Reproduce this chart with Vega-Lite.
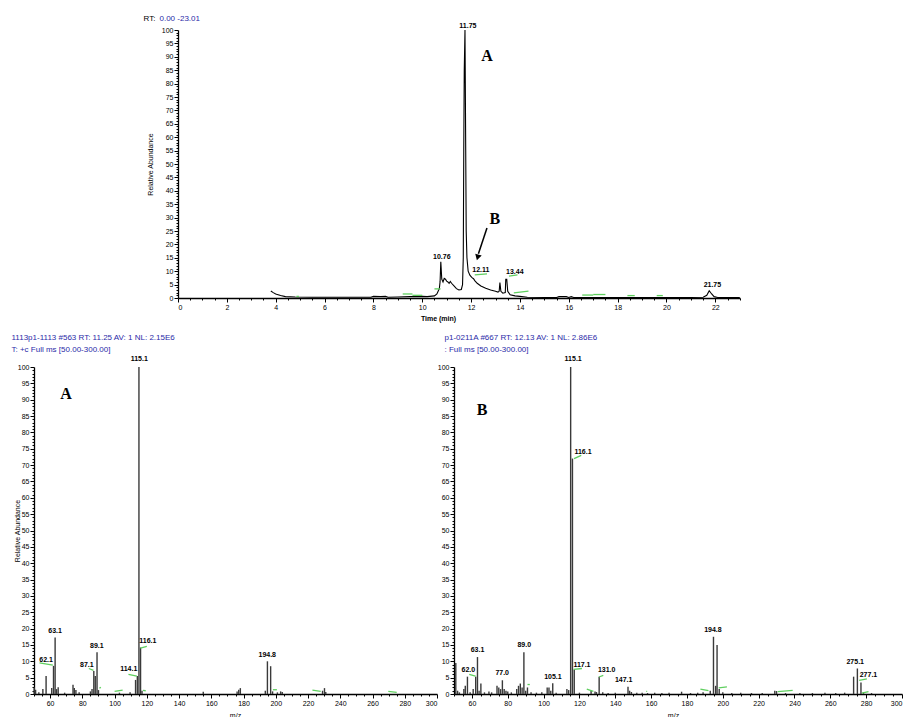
{
  "$schema": "https://vega.github.io/schema/vega-lite/v6.json",
  "background": "white",
  "padding": {"left": 11, "top": 14, "right": 0, "bottom": 0},
  "config": {
    "view": {"stroke": null},
    "font": "Liberation Sans",
    "axis": {"grid": false, "domainColor": "black", "tickColor": "black", "labelColor": "black", "labelFont": "Liberation Sans", "labelFontSize": 7, "labelPadding": 1, "labelOverlap": false, "titleFont": "Liberation Sans", "titleFontSize": 7, "titleFontWeight": "normal", "titleColor": "black", "domainWidth": 1.3, "tickWidth": 1}
  },
  "datasets": {
    "chrom": [
      {"t": 3.8, "a": 2.6}, {"t": 3.9, "a": 2.0}, {"t": 4.0, "a": 1.5}, {"t": 4.2, "a": 0.9}, {"t": 4.4, "a": 0.5}, {"t": 4.8, "a": 0.35}, {"t": 5.5, "a": 0.3}, {"t": 6.5, "a": 0.3}, {"t": 7.5, "a": 0.3}, {"t": 7.9, "a": 0.3}, {"t": 8.0, "a": 0.6}, {"t": 8.3, "a": 0.5}, {"t": 8.5, "a": 0.6}, {"t": 8.6, "a": 0.3}, {"t": 9.0, "a": 0.4}, {"t": 9.5, "a": 0.5}, {"t": 10.0, "a": 0.6}, {"t": 10.2, "a": 0.5}, {"t": 10.5, "a": 0.8}, {"t": 10.6, "a": 1.5}, {"t": 10.65, "a": 2.5}, {"t": 10.7, "a": 3.5}, {"t": 10.73, "a": 6}, {"t": 10.76, "a": 13.5}, {"t": 10.8, "a": 7}, {"t": 10.85, "a": 6}, {"t": 10.9, "a": 7.3}, {"t": 10.95, "a": 7}, {"t": 11.0, "a": 6.3}, {"t": 11.05, "a": 6.0}, {"t": 11.1, "a": 5.5}, {"t": 11.15, "a": 6.2}, {"t": 11.2, "a": 5.5}, {"t": 11.3, "a": 4.5}, {"t": 11.4, "a": 3.5}, {"t": 11.5, "a": 3.0}, {"t": 11.6, "a": 3.2}, {"t": 11.65, "a": 5}, {"t": 11.68, "a": 15}, {"t": 11.7, "a": 55}, {"t": 11.72, "a": 85}, {"t": 11.75, "a": 100}, {"t": 11.78, "a": 55}, {"t": 11.8, "a": 25}, {"t": 11.83, "a": 15}, {"t": 11.88, "a": 10}, {"t": 11.95, "a": 8.5}, {"t": 12.0, "a": 8}, {"t": 12.05, "a": 7.5}, {"t": 12.1, "a": 7.2}, {"t": 12.15, "a": 6.5}, {"t": 12.25, "a": 5.5}, {"t": 12.4, "a": 4.5}, {"t": 12.6, "a": 3.6}, {"t": 12.8, "a": 3.0}, {"t": 13.0, "a": 2.5}, {"t": 13.1, "a": 2.2}, {"t": 13.15, "a": 2.5}, {"t": 13.18, "a": 5.8}, {"t": 13.22, "a": 2.5}, {"t": 13.3, "a": 1.8}, {"t": 13.4, "a": 2.0}, {"t": 13.42, "a": 7.0}, {"t": 13.46, "a": 7.0}, {"t": 13.5, "a": 2.5}, {"t": 13.6, "a": 1.2}, {"t": 13.8, "a": 0.8}, {"t": 14.0, "a": 0.6}, {"t": 14.3, "a": 0.3}, {"t": 15.0, "a": 0.2}, {"t": 15.5, "a": 0.2}, {"t": 15.6, "a": 0.5}, {"t": 15.9, "a": 0.5}, {"t": 16.0, "a": 0.2}, {"t": 16.1, "a": 0.5}, {"t": 16.2, "a": 0.2}, {"t": 17, "a": 0.2}, {"t": 18, "a": 0.2}, {"t": 19, "a": 0.2}, {"t": 20, "a": 0.2}, {"t": 21, "a": 0.2}, {"t": 21.5, "a": 0.3}, {"t": 21.65, "a": 1.0}, {"t": 21.75, "a": 2.7}, {"t": 21.85, "a": 1.5}, {"t": 21.95, "a": 0.5}, {"t": 22.1, "a": 0.2}, {"t": 23.0, "a": 0.2}
    ],
    "chromGreen": [
      {"t1": 4.85, "a1": 0.6, "t2": 4.95, "a2": 0.6}, {"t1": 9.2, "a1": 1.5, "t2": 9.6, "a2": 1.5}, {"t1": 9.6, "a1": 1.0, "t2": 10.0, "a2": 1.0}, {"t1": 10.5, "a1": 3.4, "t2": 10.75, "a2": 3.4}, {"t1": 12.15, "a1": 8.6, "t2": 12.65, "a2": 9.0}, {"t1": 13.55, "a1": 8.2, "t2": 13.9, "a2": 8.6}, {"t1": 13.75, "a1": 1.9, "t2": 14.35, "a2": 2.6}, {"t1": 16.55, "a1": 1.1, "t2": 17.0, "a2": 1.1}, {"t1": 17.0, "a1": 1.3, "t2": 17.5, "a2": 1.3}, {"t1": 18.4, "a1": 0.9, "t2": 18.7, "a2": 0.9}, {"t1": 19.6, "a1": 0.9, "t2": 19.85, "a2": 0.9}
    ],
    "chromLabels": [
      {"t": 10.8, "a": 15.3, "label": "10.76"}, {"t": 11.87, "a": 101.5, "label": "11.75"}, {"t": 12.4, "a": 10.4, "label": "12.11"}, {"t": 13.79, "a": 9.8, "label": "13.44"}, {"t": 21.88, "a": 4.9, "label": "21.75"}
    ],
    "chromLetters": [
      {"t": 12.65, "a": 90.3, "label": "A"}, {"t": 12.97, "a": 29.5, "label": "B"}
    ],
    "arrow": [
      {"t1": 12.65, "a1": 26.1, "t2": 12.3, "a2": 16.5}
    ],
    "arrowHead": [
      {"t": 12.28, "a": 15.5}
    ],
    "specA": [
      {"m": 50.1, "v": 2.0}, {"m": 51, "v": 1.3}, {"m": 53, "v": 0.5}, {"m": 55.5, "v": 1.5}, {"m": 57.5, "v": 5.5}, {"m": 61, "v": 1.8}, {"m": 62.1, "v": 8.6}, {"m": 63.1, "v": 17.3}, {"m": 64, "v": 1.5}, {"m": 65, "v": 2.1}, {"m": 69, "v": 0.4}, {"m": 74.2, "v": 2.8}, {"m": 75, "v": 1.8}, {"m": 76, "v": 1.2}, {"m": 78, "v": 0.5}, {"m": 85, "v": 0.8}, {"m": 86, "v": 1.5}, {"m": 87.1, "v": 7.0}, {"m": 88, "v": 5.5}, {"m": 89.1, "v": 12.8}, {"m": 90, "v": 1.2}, {"m": 103, "v": 0.4}, {"m": 109.6, "v": 0.5}, {"m": 113, "v": 4.3}, {"m": 114.1, "v": 5.5}, {"m": 115.1, "v": 100}, {"m": 116.1, "v": 14.2}, {"m": 117, "v": 1.0}, {"m": 155, "v": 0.7}, {"m": 176, "v": 0.8}, {"m": 177, "v": 1.3}, {"m": 178, "v": 1.8}, {"m": 193.5, "v": 1.0}, {"m": 194.8, "v": 10.0}, {"m": 196.8, "v": 8.5}, {"m": 198, "v": 0.8}, {"m": 201, "v": 0.5}, {"m": 203, "v": 0.8}, {"m": 204, "v": 0.6}, {"m": 229, "v": 1.0}, {"m": 230.2, "v": 1.8}, {"m": 231, "v": 0.6}
    ],
    "greenA": [
      {"m1": 53.4, "v1": 9.5, "m2": 61.7, "v2": 8.8}, {"m1": 84.0, "v1": 7.8, "m2": 86.9, "v2": 7.2}, {"m1": 90.6, "v1": 1.8, "m2": 91.5, "v2": 2.0}, {"m1": 100, "v1": 0.8, "m2": 105, "v2": 1.2}, {"m1": 108.6, "v1": 6.0, "m2": 113.8, "v2": 5.5}, {"m1": 116, "v1": 14, "m2": 120, "v2": 14.6}, {"m1": 117.6, "v1": 1.1, "m2": 119.3, "v2": 1.0}, {"m1": 198.2, "v1": 1.3, "m2": 200.7, "v2": 1.3}, {"m1": 222.7, "v1": 1.2, "m2": 227.9, "v2": 0.8}, {"m1": 269.8, "v1": 0.8, "m2": 275, "v2": 0.5}
    ],
    "labelsA": [
      {"m": 57.5, "v": 10.5, "label": "62.1"}, {"m": 63.1, "v": 19.4, "label": "63.1"}, {"m": 82.8, "v": 9.0, "label": "87.1"}, {"m": 89.0, "v": 14.7, "label": "89.1"}, {"m": 108.8, "v": 7.7, "label": "114.1"}, {"m": 115.3, "v": 102.5, "label": "115.1"}, {"m": 120.6, "v": 16.1, "label": "116.1"}, {"m": 194.7, "v": 11.9, "label": "194.8"}
    ],
    "letterA": [
      {"m": 69.9, "v": 91.7, "label": "A"}
    ],
    "specB": [
      {"m": 51, "v": 9.5}, {"m": 52, "v": 1.0}, {"m": 53, "v": 0.5}, {"m": 55.5, "v": 1.5}, {"m": 56.3, "v": 2.5}, {"m": 57.5, "v": 5.3}, {"m": 59, "v": 0.5}, {"m": 60.7, "v": 1.5}, {"m": 62.1, "v": 5.3}, {"m": 63.1, "v": 11.3}, {"m": 64, "v": 1.0}, {"m": 65, "v": 3.2}, {"m": 67, "v": 0.5}, {"m": 69.5, "v": 0.8}, {"m": 71, "v": 0.5}, {"m": 74, "v": 2.5}, {"m": 75, "v": 2.0}, {"m": 76, "v": 1.5}, {"m": 77, "v": 4.2}, {"m": 78, "v": 1.5}, {"m": 79, "v": 1.0}, {"m": 80, "v": 0.8}, {"m": 82, "v": 0.5}, {"m": 85, "v": 1.5}, {"m": 86, "v": 2.5}, {"m": 87, "v": 3.2}, {"m": 88, "v": 2.0}, {"m": 89, "v": 12.8}, {"m": 90, "v": 1.0}, {"m": 91, "v": 2.0}, {"m": 93, "v": 0.5}, {"m": 96, "v": 0.4}, {"m": 99, "v": 0.5}, {"m": 102, "v": 2.0}, {"m": 103, "v": 2.0}, {"m": 104, "v": 1.0}, {"m": 105.1, "v": 3.3}, {"m": 107, "v": 0.4}, {"m": 113, "v": 1.5}, {"m": 114, "v": 1.2}, {"m": 115.1, "v": 100}, {"m": 116.1, "v": 72}, {"m": 117.1, "v": 7.5}, {"m": 120, "v": 0.4}, {"m": 126.5, "v": 1.0}, {"m": 128.7, "v": 0.8}, {"m": 129.5, "v": 0.6}, {"m": 131, "v": 5.3}, {"m": 133, "v": 0.5}, {"m": 136, "v": 0.3}, {"m": 140, "v": 0.4}, {"m": 147.1, "v": 2.2}, {"m": 148, "v": 1.0}, {"m": 149, "v": 0.6}, {"m": 152, "v": 0.4}, {"m": 155, "v": 0.4}, {"m": 158, "v": 0.3}, {"m": 162, "v": 0.4}, {"m": 166, "v": 0.3}, {"m": 170, "v": 0.4}, {"m": 177, "v": 0.7}, {"m": 182, "v": 0.3}, {"m": 186, "v": 0.4}, {"m": 189, "v": 0.5}, {"m": 193, "v": 1.0}, {"m": 194.8, "v": 17.5}, {"m": 196, "v": 2.5}, {"m": 196.8, "v": 15.0}, {"m": 198, "v": 1.5}, {"m": 200, "v": 0.5}, {"m": 205, "v": 0.3}, {"m": 210, "v": 0.4}, {"m": 216, "v": 0.3}, {"m": 222, "v": 0.3}, {"m": 229, "v": 1.0}, {"m": 230, "v": 0.9}, {"m": 235, "v": 0.3}, {"m": 243, "v": 0.3}, {"m": 250, "v": 0.3}, {"m": 257, "v": 0.4}, {"m": 263, "v": 0.3}, {"m": 268, "v": 0.4}, {"m": 273, "v": 5.3}, {"m": 275.1, "v": 7.8}, {"m": 277.1, "v": 3.5}, {"m": 278.5, "v": 0.5}, {"m": 283, "v": 0.3}
    ],
    "greenB": [
      {"m1": 58.5, "v1": 6.0, "m2": 62.0, "v2": 5.5}, {"m1": 91.0, "v1": 2.9, "m2": 92.3, "v2": 2.9}, {"m1": 117, "v1": 72, "m2": 121, "v2": 73}, {"m1": 116.8, "v1": 7.5, "m2": 121.4, "v2": 7.8}, {"m1": 124.1, "v1": 1.5, "m2": 127.8, "v2": 0.8}, {"m1": 130.9, "v1": 5.2, "m2": 133.3, "v2": 5.7}, {"m1": 157.3, "v1": 0.8, "m2": 157.8, "v2": 0.8}, {"m1": 187.5, "v1": 1.5, "m2": 192, "v2": 1.0}, {"m1": 197.7, "v1": 1.9, "m2": 202.3, "v2": 2.2}, {"m1": 230.7, "v1": 0.7, "m2": 239, "v2": 1.1}, {"m1": 276.1, "v1": 4.2, "m2": 280.4, "v2": 4.6}, {"m1": 277.6, "v1": 0.3, "m2": 281.3, "v2": 0.7}
    ],
    "labelsB": [
      {"m": 58, "v": 7.2, "label": "62.0"}, {"m": 63.1, "v": 13.4, "label": "63.1"}, {"m": 76.9, "v": 6.3, "label": "77.0"}, {"m": 89.2, "v": 15.1, "label": "89.0"}, {"m": 105.2, "v": 5.3, "label": "105.1"}, {"m": 116.5, "v": 102.5, "label": "115.1"}, {"m": 122, "v": 74, "label": "116.1"}, {"m": 121.4, "v": 8.8, "label": "117.1"}, {"m": 135.2, "v": 7.3, "label": "131.0"}, {"m": 144.7, "v": 4.4, "label": "147.1"}, {"m": 194.5, "v": 19.6, "label": "194.8"}, {"m": 273.9, "v": 9.8, "label": "275.1"}, {"m": 281.3, "v": 5.8, "label": "277.1"}
    ],
    "letterB": [
      {"m": 65.6, "v": 86.9, "label": "B"}
    ],
    "spacer": [
      {"label": ""}
    ]
  },
  "spacing": 12,
  "vconcat": [
    {
      "bounds": "flush",
      "spacing": 17,
      "hconcat": [
        {
          "width": 127,
          "height": 268,
          "data": {"name": "spacer"},
          "mark": {"type": "text"},
          "encoding": {"text": {"field": "label", "type": "nominal"}}
        },
        {
          "width": 562,
          "height": 268,
          "layer": [
            {
              "data": {"name": "chrom"},
              "mark": {"type": "line", "color": "black", "strokeWidth": 1.1},
              "encoding": {
                "x": {"field": "t", "type": "quantitative", "scale": {"domain": [0, 23.01], "nice": false, "zero": false},
                  "axis": {"orient": "bottom", "values": [0, 2, 4, 6, 8, 10, 12, 14, 16, 18, 20, 22], "tickSize": 4, "title": "Time (min)", "titleFontWeight": "bold", "titleX": 260, "titleY": 20, "titleBaseline": "middle"}},
                "y": {"field": "a", "type": "quantitative", "scale": {"domain": [0, 100], "nice": false},
                  "axis": {"orient": "left", "values": [0, 5, 10, 15, 20, 25, 30, 35, 40, 45, 50, 55, 60, 65, 70, 75, 80, 85, 90, 95, 100], "tickSize": 4, "title": "Relative Abundance", "titleX": -28, "titleBaseline": "middle"}}
              }
            },
            {
              "data": {"name": "chromGreen"},
              "mark": {"type": "rule", "color": "#5fcf5f", "strokeWidth": 1.3},
              "encoding": {
                "x": {"field": "t1", "type": "quantitative", "axis": {"orient": "bottom", "values": [0.5, 1, 1.5, 2.5, 3, 3.5, 4.5, 5, 5.5, 6.5, 7, 7.5, 8.5, 9, 9.5, 10.5, 11, 11.5, 12.5, 13, 13.5, 14.5, 15, 15.5, 16.5, 17, 17.5, 18.5, 19, 19.5, 20.5, 21, 21.5, 22.5, 23], "tickSize": 2, "labels": false, "domain": false, "title": "0.00 -23.01", "titleColor": "#2a2aa8", "titleFontSize": 8, "titleX": -19, "titleY": -279.3, "titleAlign": "left", "titleBaseline": "middle"}},
                "x2": {"field": "t2"},
                "y": {"field": "a1", "type": "quantitative", "axis": {"orient": "left", "values": [1, 2, 3, 4, 6, 7, 8, 9, 11, 12, 13, 14, 16, 17, 18, 19, 21, 22, 23, 24, 26, 27, 28, 29, 31, 32, 33, 34, 36, 37, 38, 39, 41, 42, 43, 44, 46, 47, 48, 49, 51, 52, 53, 54, 56, 57, 58, 59, 61, 62, 63, 64, 66, 67, 68, 69, 71, 72, 73, 74, 76, 77, 78, 79, 81, 82, 83, 84, 86, 87, 88, 89, 91, 92, 93, 94, 96, 97, 98, 99], "tickSize": 2, "labels": false, "domain": false, "title": "RT:", "titleFontSize": 8, "titleAngle": 0, "titleX": -29, "titleY": -11.3, "titleAlign": "center", "titleBaseline": "middle"}},
                "y2": {"field": "a2"}
              }
            },
            {
              "data": {"name": "chromLabels"},
              "mark": {"type": "text", "fontSize": 7, "fontWeight": "bold", "color": "black", "baseline": "middle"},
              "encoding": {
                "x": {"field": "t", "type": "quantitative", "axis": null},
                "y": {"field": "a", "type": "quantitative", "axis": null},
                "text": {"field": "label", "type": "nominal"}
              }
            },
            {
              "data": {"name": "chromLetters"},
              "mark": {"type": "text", "font": "Liberation Serif", "fontSize": 16, "fontWeight": "bold", "color": "black", "baseline": "middle"},
              "encoding": {
                "x": {"field": "t", "type": "quantitative", "axis": null},
                "y": {"field": "a", "type": "quantitative", "axis": null},
                "text": {"field": "label", "type": "nominal"}
              }
            },
            {
              "data": {"name": "arrow"},
              "mark": {"type": "rule", "color": "black", "strokeWidth": 1.5},
              "encoding": {
                "x": {"field": "t1", "type": "quantitative", "axis": null},
                "x2": {"field": "t2"},
                "y": {"field": "a1", "type": "quantitative", "axis": null},
                "y2": {"field": "a2"}
              }
            },
            {
              "data": {"name": "arrowHead"},
              "mark": {"type": "point", "shape": "triangle", "filled": true, "color": "black", "size": 45, "angle": 196, "opacity": 1},
              "encoding": {
                "x": {"field": "t", "type": "quantitative", "axis": null},
                "y": {"field": "a", "type": "quantitative", "axis": null}
              }
            }
          ],
          "resolve": {"axis": {"x": "independent", "y": "independent"}}
        }
      ]
    },
    {
      "bounds": "flush",
      "spacing": 17,
      "hconcat": [
        {
          "width": 403,
          "height": 327,
          "layer": [
            {
              "data": {"name": "specA"},
              "mark": {"type": "rule", "color": "#3a3a3a", "strokeWidth": 1.4},
              "encoding": {
                "x": {"field": "m", "type": "quantitative", "scale": {"domain": [50, 300], "nice": false, "zero": false},
                  "axis": {"orient": "bottom", "values": [60, 80, 100, 120, 140, 160, 180, 200, 220, 240, 260, 280, 300], "tickSize": 4, "title": "m/z", "titleX": 201, "titleY": 21, "titleBaseline": "middle"}},
                "y": {"field": "v", "type": "quantitative", "scale": {"domain": [0, 100], "nice": false},
                  "axis": {"orient": "left", "values": [0, 5, 10, 15, 20, 25, 30, 35, 40, 45, 50, 55, 60, 65, 70, 75, 80, 85, 90, 95, 100], "tickSize": 4, "title": "Relative Abundance", "titleX": -17, "titleBaseline": "middle"}},
                "y2": {"datum": 0}
              }
            },
            {
              "data": {"name": "greenA"},
              "mark": {"type": "rule", "color": "#5fcf5f", "strokeWidth": 1.3},
              "encoding": {
                "x": {"field": "m1", "type": "quantitative", "axis": {"orient": "bottom", "values": [50, 55, 65, 70, 75, 85, 90, 95, 105, 110, 115, 125, 130, 135, 145, 150, 155, 165, 170, 175, 185, 190, 195, 205, 210, 215, 225, 230, 235, 245, 250, 255, 265, 270, 275, 285, 290, 295], "tickSize": 2, "labels": false, "domain": false, "title": "1113p1-1113 #563  RT: 11.25  AV: 1  NL: 2.15E6", "titleColor": "#2a2aa8", "titleFontSize": 8, "titleX": -23, "titleY": -357, "titleAlign": "left", "titleBaseline": "middle"}},
                "x2": {"field": "m2"},
                "y": {"field": "v1", "type": "quantitative", "axis": {"orient": "left", "values": [1, 2, 3, 4, 6, 7, 8, 9, 11, 12, 13, 14, 16, 17, 18, 19, 21, 22, 23, 24, 26, 27, 28, 29, 31, 32, 33, 34, 36, 37, 38, 39, 41, 42, 43, 44, 46, 47, 48, 49, 51, 52, 53, 54, 56, 57, 58, 59, 61, 62, 63, 64, 66, 67, 68, 69, 71, 72, 73, 74, 76, 77, 78, 79, 81, 82, 83, 84, 86, 87, 88, 89, 91, 92, 93, 94, 96, 97, 98, 99], "tickSize": 2, "labels": false, "domain": false, "title": "T: +c Full ms [50.00-300.00]", "titleColor": "#2a2aa8", "titleFontSize": 8, "titleAngle": 0, "titleX": -23, "titleY": -18, "titleAlign": "left", "titleBaseline": "middle"}},
                "y2": {"field": "v2"}
              }
            },
            {
              "data": {"name": "labelsA"},
              "mark": {"type": "text", "fontSize": 7, "fontWeight": "bold", "color": "black", "baseline": "middle"},
              "encoding": {
                "x": {"field": "m", "type": "quantitative", "axis": null},
                "y": {"field": "v", "type": "quantitative", "axis": null},
                "text": {"field": "label", "type": "nominal"}
              }
            },
            {
              "data": {"name": "letterA"},
              "mark": {"type": "text", "font": "Liberation Serif", "fontSize": 16, "fontWeight": "bold", "color": "black", "baseline": "middle"},
              "encoding": {
                "x": {"field": "m", "type": "quantitative", "axis": null},
                "y": {"field": "v", "type": "quantitative", "axis": null},
                "text": {"field": "label", "type": "nominal"}
              }
            }
          ],
          "resolve": {"axis": {"x": "independent", "y": "independent"}}
        },
        {
          "width": 448,
          "height": 327,
          "layer": [
            {
              "data": {"name": "specB"},
              "mark": {"type": "rule", "color": "#3a3a3a", "strokeWidth": 1.4},
              "encoding": {
                "x": {"field": "m", "type": "quantitative", "scale": {"domain": [50, 300], "nice": false, "zero": false},
                  "axis": {"orient": "bottom", "values": [60, 80, 100, 120, 140, 160, 180, 200, 220, 240, 260, 280, 300], "tickSize": 4, "title": "m/z", "titleX": 219, "titleY": 21, "titleBaseline": "middle"}},
                "y": {"field": "v", "type": "quantitative", "scale": {"domain": [0, 100], "nice": false},
                  "axis": {"orient": "left", "values": [0, 5, 10, 15, 20, 25, 30, 35, 40, 45, 50, 55, 60, 65, 70, 75, 80, 85, 90, 95, 100], "tickSize": 4, "title": null}},
                "y2": {"datum": 0}
              }
            },
            {
              "data": {"name": "greenB"},
              "mark": {"type": "rule", "color": "#5fcf5f", "strokeWidth": 1.3},
              "encoding": {
                "x": {"field": "m1", "type": "quantitative", "axis": {"orient": "bottom", "values": [50, 55, 65, 70, 75, 85, 90, 95, 105, 110, 115, 125, 130, 135, 145, 150, 155, 165, 170, 175, 185, 190, 195, 205, 210, 215, 225, 230, 235, 245, 250, 255, 265, 270, 275, 285, 290, 295], "tickSize": 2, "labels": false, "domain": false, "title": "p1-0211A #667  RT: 12.13  AV: 1  NL: 2.86E6", "titleColor": "#2a2aa8", "titleFontSize": 8, "titleX": -10, "titleY": -357, "titleAlign": "left", "titleBaseline": "middle"}},
                "x2": {"field": "m2"},
                "y": {"field": "v1", "type": "quantitative", "axis": {"orient": "left", "values": [1, 2, 3, 4, 6, 7, 8, 9, 11, 12, 13, 14, 16, 17, 18, 19, 21, 22, 23, 24, 26, 27, 28, 29, 31, 32, 33, 34, 36, 37, 38, 39, 41, 42, 43, 44, 46, 47, 48, 49, 51, 52, 53, 54, 56, 57, 58, 59, 61, 62, 63, 64, 66, 67, 68, 69, 71, 72, 73, 74, 76, 77, 78, 79, 81, 82, 83, 84, 86, 87, 88, 89, 91, 92, 93, 94, 96, 97, 98, 99], "tickSize": 2, "labels": false, "domain": false, "title": ": Full ms [50.00-300.00]", "titleColor": "#2a2aa8", "titleFontSize": 8, "titleAngle": 0, "titleX": -10, "titleY": -18, "titleAlign": "left", "titleBaseline": "middle"}},
                "y2": {"field": "v2"}
              }
            },
            {
              "data": {"name": "labelsB"},
              "mark": {"type": "text", "fontSize": 7, "fontWeight": "bold", "color": "black", "baseline": "middle"},
              "encoding": {
                "x": {"field": "m", "type": "quantitative", "axis": null},
                "y": {"field": "v", "type": "quantitative", "axis": null},
                "text": {"field": "label", "type": "nominal"}
              }
            },
            {
              "data": {"name": "letterB"},
              "mark": {"type": "text", "font": "Liberation Serif", "fontSize": 16, "fontWeight": "bold", "color": "black", "baseline": "middle"},
              "encoding": {
                "x": {"field": "m", "type": "quantitative", "axis": null},
                "y": {"field": "v", "type": "quantitative", "axis": null},
                "text": {"field": "label", "type": "nominal"}
              }
            }
          ],
          "resolve": {"axis": {"x": "independent", "y": "independent"}}
        }
      ]
    }
  ]
}
